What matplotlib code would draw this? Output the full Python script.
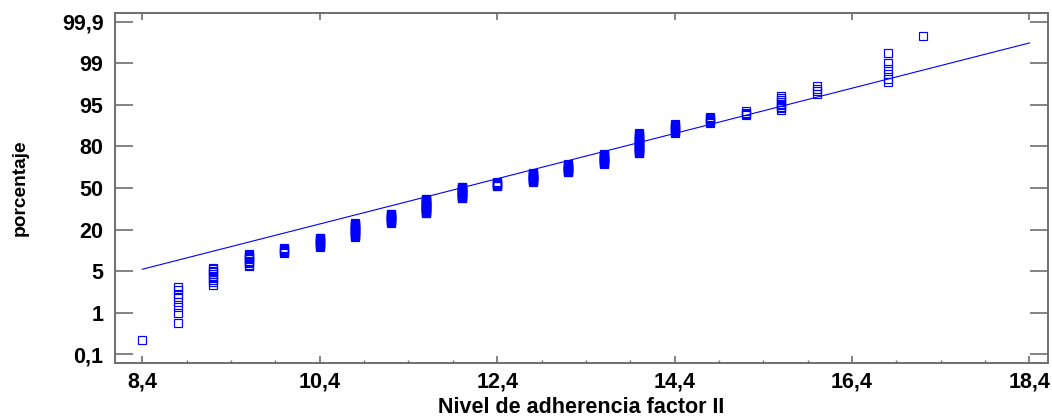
"""Normal probability plot of factor II adherence levels."""

from statistics import NormalDist

import matplotlib
matplotlib.use("Agg")
import matplotlib.pyplot as plt
import numpy as np
from matplotlib.ticker import FixedLocator, MultipleLocator, FuncFormatter

# Observed levels and how many samples fall at each level
LEVELS = [8.4, 8.8, 9.2, 9.6, 10.0, 10.4, 10.8, 11.2, 11.6, 12.0, 12.4,
          12.8, 13.2, 13.6, 14.0, 14.4, 14.8, 15.2, 15.6, 16.0, 16.8, 17.2]
COUNTS = [1, 8, 10, 11, 6, 12, 21, 16, 28, 24, 9,
          18, 16, 18, 29, 10, 7, 4, 9, 4, 6, 1]

# Reference normal line (mean, std dev)
FIT_MEAN = 11.99
FIT_SD = 2.374
LINE_X = [8.4, 18.4]

Y_TICK_LABELS = ["0,1", "1", "5", "20", "50", "80", "95", "99", "99,9"]
X_TICKS = [8.4, 10.4, 12.4, 14.4, 16.4, 18.4]

BLUE = "#0000ff"
FRAME = "#6e6e6e"
FONT = "Liberation Sans"


def normal_scores(values):
    """Blom plotting positions converted to standard normal quantiles."""
    values = np.sort(np.asarray(values, dtype=float))
    n = len(values)
    ranks = np.arange(1, n + 1)
    probs = (ranks - 0.375) / (n + 0.25)
    nd = NormalDist()
    return values, np.array([nd.inv_cdf(p) for p in probs])


def main():
    samples = np.repeat(LEVELS, COUNTS)
    xs, zs = normal_scores(samples)

    fig = plt.figure(figsize=(10.52, 4.17), dpi=100)
    left, right = 115.3 / 1052, 1047.5 / 1052
    top, bottom = 1 - 12.7 / 417, 1 - 363.3 / 417
    ax = fig.add_axes([left, bottom, right - left, top - bottom])

    ax.plot(xs, zs, "s", markerfacecolor="none", markeredgecolor=BLUE,
            markersize=5.4, markeredgewidth=0.85, zorder=3)

    line_x = np.array(LINE_X)
    ax.plot(line_x, (line_x - FIT_MEAN) / FIT_SD, color=BLUE, linewidth=0.8,
            zorder=2)

    # probability axis: labels at evenly spaced normal scores
    z_edge = NormalDist().inv_cdf(0.999)
    ax.set_ylim(-3.263, 3.263)
    ax.yaxis.set_major_locator(FixedLocator(np.linspace(-z_edge, z_edge,
                                                        len(Y_TICK_LABELS))))
    ax.set_yticklabels(Y_TICK_LABELS)

    ax.set_xlim(8.096, 18.603)
    ax.xaxis.set_major_locator(FixedLocator(X_TICKS))
    ax.xaxis.set_minor_locator(MultipleLocator(0.5, offset=0.4))
    ax.xaxis.set_major_formatter(
        FuncFormatter(lambda v, _: f"{v:.1f}".replace(".", ",")))

    for spine in ax.spines.values():
        spine.set_color(FRAME)
        spine.set_linewidth(1.4)

    ax.tick_params(axis="y", which="major", direction="in", length=13,
                   width=1.2, color=FRAME, left=True, right=True, pad=8.5)
    ax.tick_params(axis="x", which="major", direction="in", length=5,
                   width=1.2, color=FRAME, top=True, bottom=True, pad=6)
    ax.tick_params(axis="x", which="minor", direction="in", length=2.2,
                   width=1.0, color=FRAME, top=False, bottom=True)

    for lab in ax.get_yticklabels():
        lab.set_fontfamily(FONT)
        lab.set_fontweight("bold")
        lab.set_fontsize(15.5)
    for lab in ax.get_xticklabels():
        lab.set_fontfamily(FONT)
        lab.set_fontweight("bold")
        lab.set_fontsize(15.5)

    ax.set_xlabel("Nivel de adherencia factor II", fontfamily=FONT,
                  fontweight="bold", fontsize=15.5, labelpad=3)
    ax.set_ylabel("porcentaje", fontfamily=FONT, fontweight="bold",
                  fontsize=13.8)
    ax.yaxis.set_label_coords(-0.093, 0.5)

    fig.savefig("out.png", dpi=100, facecolor="white")


if __name__ == "__main__":
    main()
